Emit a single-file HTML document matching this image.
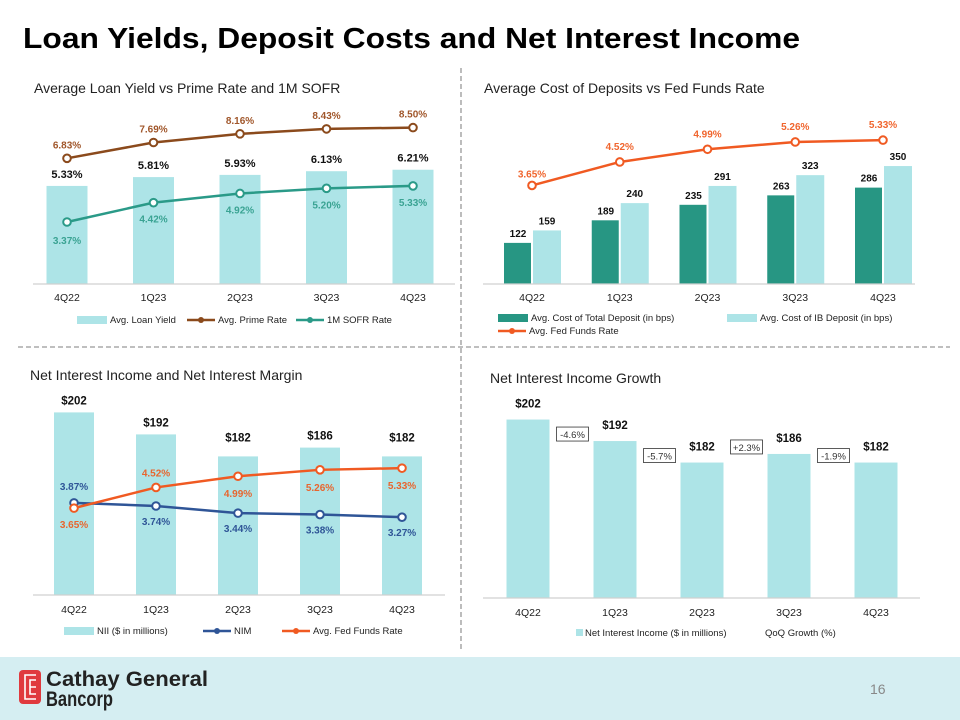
<!DOCTYPE html>
<html><head><meta charset="utf-8">
<style>
html,body{margin:0;padding:0;background:#fff;}
svg{display:block;font-family:"Liberation Sans",Arial,sans-serif;}
</style></head>
<body>
<svg id="root" width="960" height="720" viewBox="0 0 960 720" xmlns="http://www.w3.org/2000/svg">
<rect x="0" y="0" width="960" height="720" fill="#fff"/>
<text x="23" y="48" font-size="29" font-weight="bold" fill="#000" textLength="777" lengthAdjust="spacingAndGlyphs">Loan Yields, Deposit Costs and Net Interest Income</text>
<line x1="461" y1="68" x2="461" y2="650" stroke="#999" stroke-width="1.3" stroke-dasharray="5,3"/>
<line x1="18" y1="347" x2="950" y2="347" stroke="#999" stroke-width="1.3" stroke-dasharray="5,3"/>
<text x="34" y="93" font-size="14" fill="#222">Average Loan Yield vs Prime Rate and 1M SOFR</text>
<text x="484" y="93" font-size="14" fill="#222">Average Cost of Deposits vs Fed Funds Rate</text>
<text x="30" y="380" font-size="14" fill="#222">Net Interest Income and Net Interest Margin</text>
<text x="490" y="383" font-size="14" fill="#222">Net Interest Income Growth</text>
<g id="c1"></g>
<g id="c2"></g>
<g id="c3"></g>
<g id="c4"></g>
<rect x="0" y="657" width="960" height="63" fill="#d5eef2"/>
<g>
<rect x="19" y="670" width="22" height="34" rx="4" fill="#e03a3e"/>
<path d="M36 675 H25 V699 H36 M36 680 H30 V694 H36 M30 687 H36" fill="none" stroke="#fff" stroke-width="1.6"/>
<text x="46" y="686" font-size="21" font-weight="bold" fill="#222" textLength="162" lengthAdjust="spacingAndGlyphs">Cathay General</text>
<text x="46" y="706" font-size="21" font-weight="bold" fill="#222" textLength="67" lengthAdjust="spacingAndGlyphs">Bancorp</text>
</g>
<text x="870" y="694" font-size="14" fill="#888">16</text>
</svg>
<script>
const NS="http://www.w3.org/2000/svg";
// ---- data ----
const quarters=["4Q22","1Q23","2Q23","3Q23","4Q23"];
const loanYield=[5.33,5.81,5.93,6.13,6.21];
const primeRate=[6.83,7.69,8.16,8.43,8.50];
const sofrRate=[3.37,4.42,4.92,5.20,5.33];
const costTotalDeposit=[122,189,235,263,286];
const costIBDeposit=[159,240,291,323,350];
const fedFunds=[3.65,4.52,4.99,5.26,5.33];
const nii=[202,192,182,186,182];
const nim=[3.87,3.74,3.44,3.38,3.27];
const qoqGrowth=["-4.6%","-5.7%","+2.3%","-1.9%"];

function el(parent,tag,attrs,text){const e=document.createElementNS(NS,tag);for(const k in attrs)e.setAttribute(k,attrs[k]);if(text!==undefined)e.textContent=text;parent.appendChild(e);return e;}
function pct(v){return v.toFixed(2)+"%";}

function xAxis(g,x0,x1,y,xs,ly){
  const ax=el(g,"line",{x1:x0,y1:y,x2:x1,y2:y,stroke:"#d0d0d0","stroke-width":1.2});
  
  
  quarters.forEach((q,i)=>{
    const t=el(g,"text",{x:xs(i),y:ly,"font-size":10.5,"text-anchor":"middle",fill:"#222"},q);
    
    
  });
}
function line(g,vals,xs,ys,color,name,lblDy,lblColor){
  const pts=vals.map((v,i)=>xs(i)+","+ys(v)).join(" ");
  const p=el(g,"polyline",{points:pts,fill:"none",stroke:color,"stroke-width":2.5});
  
  
  vals.forEach((v,i)=>{
    const c=el(g,"circle",{cx:xs(i),cy:ys(v),r:3.8,fill:"#fff",stroke:color,"stroke-width":2});
    
    
    const dy=typeof lblDy==="function"?lblDy(i):lblDy;
    const t=el(g,"text",{x:xs(i),y:ys(v)+dy,"font-size":10,"font-weight":"bold","text-anchor":"middle",fill:lblColor||color},pct(v));
    
    
  });
}
function legendBox(g,x,y,color,label,name){
  const r=el(g,"rect",{x:x,y:y-7,width:30,height:8,fill:color});
  
  
  const t=el(g,"text",{x:x+33,y:y,"font-size":9.5,fill:"#222"},label);
  
  
}
function legendLine(g,x,y,color,label,name){
  const l=el(g,"line",{x1:x,y1:y-3,x2:x+28,y2:y-3,stroke:color,"stroke-width":2.5});
  
  
  const c=el(g,"circle",{cx:x+14,cy:y-3,r:3,fill:color});
  
  
  const t=el(g,"text",{x:x+31,y:y,"font-size":9.5,fill:"#222"},label);
  
  
}

// ---- chart 1 ----
(function(){
  const g=document.getElementById("c1");
  const base=284,k=18.4;
  const xs=i=>67+i*86.5, ys=v=>base-v*k;
  quarters.forEach((q,i)=>{
    const v=loanYield[i];
    const b=el(g,"rect",{x:xs(i)-20.5,y:ys(v),width:41,height:base-ys(v),fill:"#ade4e7"});
    
    
    const t=el(g,"text",{x:xs(i),y:ys(v)-8,"font-size":11,"font-weight":"bold","text-anchor":"middle",fill:"#111"},pct(v));
    
    
  });
  xAxis(g,33,455,base,xs,301);
  line(g,primeRate,xs,ys,"#8b4a1c","prime-rate",-10,"#a0562a");
  line(g,sofrRate,xs,ys,"#2a9a88","sofr-rate",i=>i==0?22:20,"#3aa393");
  legendBox(g,77,323,"#ade4e7","Avg. Loan Yield","legend-avg-loan-yield");
  legendLine(g,187,323,"#8b4a1c","Avg. Prime Rate","legend-avg-prime-rate");
  legendLine(g,296,323,"#2a9a88","1M SOFR Rate","legend-sofr-rate");
})();

// ---- chart 2 ----
(function(){
  const g=document.getElementById("c2");
  const base=284,k=0.337,kl=27;
  const xs=i=>532+i*87.75, ys=v=>base-v*k, yl=v=>base-v*kl;
  quarters.forEach((q,i)=>{
    const a=costTotalDeposit[i],b=costIBDeposit[i];
    const r1=el(g,"rect",{x:xs(i)-28,y:ys(a),width:27,height:base-ys(a),fill:"#279683"});
    
    
    const r2=el(g,"rect",{x:xs(i)+1,y:ys(b),width:28,height:base-ys(b),fill:"#ade4e7"});
    
    
    const t1=el(g,"text",{x:xs(i)-14,y:ys(a)-6,"font-size":10,"font-weight":"bold","text-anchor":"middle",fill:"#111"},a);
    
    
    const t2=el(g,"text",{x:xs(i)+15,y:ys(b)-6,"font-size":10,"font-weight":"bold","text-anchor":"middle",fill:"#111"},b);
    
    
  });
  xAxis(g,483,915,base,xs,301);
  line(g,fedFunds,xs,yl,"#f05a22","fed-funds-rate",i=>i==0?-8:-12,"#f0652e");
  legendBox(g,498,321,"#279683","Avg. Cost of Total Deposit (in bps)","legend-total-deposit-cost");
  legendBox(g,727,321,"#ade4e7","Avg. Cost of IB Deposit (in bps)","legend-ib-deposit-cost");
  legendLine(g,498,334,"#f05a22","Avg. Fed Funds Rate","legend-fed-funds-rate");
})();

// ---- chart 3 ----
(function(){
  const g=document.getElementById("c3");
  const base=595,k=2.2,z=119,kl=23.8;
  const xs=i=>74+i*82, ys=v=>base-(v-z)*k, yl=v=>base-v*kl;
  quarters.forEach((q,i)=>{
    const v=nii[i];
    const b=el(g,"rect",{x:xs(i)-20,y:ys(v),width:40,height:base-ys(v),fill:"#ade4e7"});
    
    
    const t=el(g,"text",{x:xs(i),y:ys(v)-(i==2||i==4?15:8),"font-size":11.5,"font-weight":"bold","text-anchor":"middle",fill:"#111"},"$"+v);
    
    
  });
  xAxis(g,33,445,base,xs,613);
  line(g,nim,xs,yl,"#2f5597","nim",i=>i==0?-13:19,"#2f5597");
  line(g,fedFunds,xs,yl,"#f05a22","nii-fed-funds-rate",i=>i==0?20:i==1?-11:21,"#e8652e");
  legendBox(g,64,634,"#ade4e7","NII ($ in millions)","legend-nii");
  legendLine(g,203,634,"#2f5597","NIM","legend-nim");
  legendLine(g,282,634,"#f05a22","Avg. Fed Funds Rate","legend-nii-fed-funds-rate");
})();

// ---- chart 4 ----
(function(){
  const g=document.getElementById("c4");
  const base=598,k=2.15,z=119;
  const xs=i=>528+i*87, ys=v=>base-(v-z)*k;
  quarters.forEach((q,i)=>{
    const v=nii[i];
    const b=el(g,"rect",{x:xs(i)-21.5,y:ys(v),width:43,height:base-ys(v),fill:"#ade4e7"});
    
    
    const t=el(g,"text",{x:xs(i),y:ys(v)-12,"font-size":11.5,"font-weight":"bold","text-anchor":"middle",fill:"#111"},"$"+v);
    
    
  });
  qoqGrowth.forEach((s,i)=>{
    const cx=xs(i)+43.5, cy=ys(nii[i+1])-6;
    const r=el(g,"rect",{x:cx-15,y:cy-8,width:32,height:14,fill:"#fff",stroke:"#333","stroke-width":0.8});
    
    
    const t=el(g,"text",{x:cx+1,y:cy+3,"font-size":9.5,"text-anchor":"middle",fill:"#333"},s);
    
    
  });
  xAxis(g,483,920,base,xs,616);
  const r=el(g,"rect",{x:576,y:629,width:7,height:7,fill:"#ade4e7"});
  
  
  const t=el(g,"text",{x:585,y:636,"font-size":9.5,fill:"#222"},"Net Interest Income ($ in millions)");
  
  
  const t2=el(g,"text",{x:765,y:636,"font-size":9.5,fill:"#222"},"QoQ Growth (%)");
  
  
})();
</script>
</body></html>
